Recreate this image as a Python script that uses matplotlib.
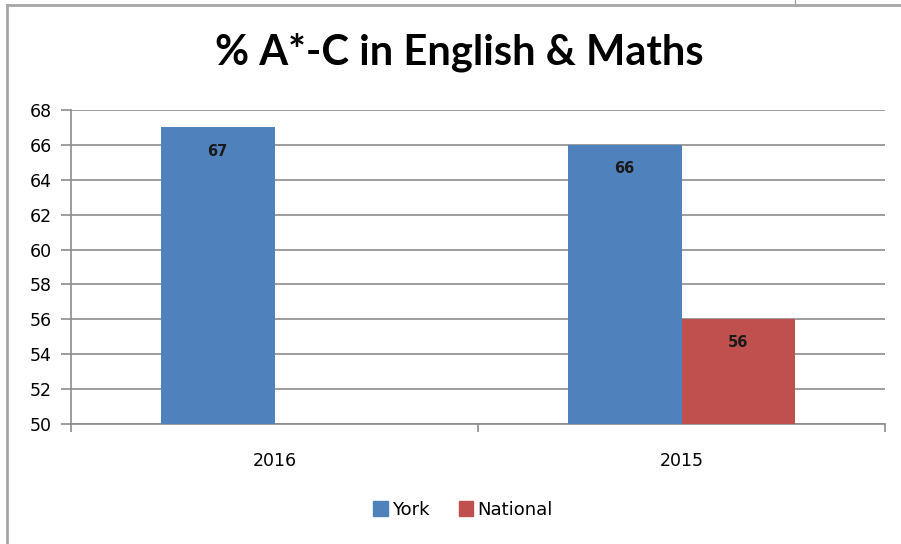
import numpy as np
import matplotlib.pyplot as plt
from matplotlib.lines import Line2D
from matplotlib.patches import Patch

plt.rcParams['font.family'] = ['DejaVu Sans']

years = ["2016", "2015"]
york = [67, 66]
national = [np.nan, 56]
series_names = ["York", "National"]
colors = ["#4F81BD", "#C0504D"]
yticks = [50, 52, 54, 56, 58, 60, 62, 64, 66, 68]

W, H = 901, 544
fig = plt.figure(figsize=(W / 100, H / 100), dpi=100)

# grey frame of the chart (top and left edges visible)
fig.add_artist(Line2D([7 / W, 7 / W], [0, 1 - 5 / H], color="#A6A6A6", lw=2))
fig.add_artist(Line2D([7 / W, 1], [1 - 5 / H, 1 - 5 / H], color="#A6A6A6", lw=2))
fig.add_artist(Line2D([795 / W, 795 / W], [1, 1 - 4 / H], color="#A6A6A6", lw=1))

ax = fig.add_axes([71 / W, (H - 424) / H, (885 - 71) / W, (424 - 110) / H])

x = np.arange(len(years))
w = 0.28
for i, (vals, name) in enumerate(zip([york, national], series_names)):
    pos = x + (i - 0.5) * w
    ax.bar(pos, vals, w, color=colors[i], label=name, zorder=3)
    for p, v in zip(pos, vals):
        if not np.isnan(v):
            ax.annotate(f"{v:.0f}", (p, v), xytext=(0, -17), textcoords="offset points",
                        ha="center", va="center", fontsize=10.5, fontweight="bold",
                        color="#1a1a1a", zorder=4)

ax.set_ylim(50, 68)
ax.set_xlim(-0.5, 1.5)
ax.set_yticks(yticks)
ax.yaxis.grid(True, color="#8C8C8C", lw=1.2, zorder=0)
ax.set_xticks([-0.5, 0.5, 1.5])
ax.set_xticklabels([])
ax.set_xticks(x, minor=True)
ax.set_xticklabels(years, minor=True)
ax.tick_params(axis="x", which="minor", length=0, pad=20, labelsize=12.5)
ax.tick_params(axis="x", which="major", length=6, color="#8C8C8C", width=1.2)
ax.tick_params(axis="y", length=7, color="#8C8C8C", width=1.2, labelsize=12.5, pad=7)
for s in ["top", "right"]:
    ax.spines[s].set_visible(False)
for s in ["left", "bottom"]:
    ax.spines[s].set_color("#8C8C8C")
    ax.spines[s].set_linewidth(1.2)

fig.text(459 / W, 1 - 52 / H, "% A*-C in English & Maths", ha="center", va="center",
         fontsize=30, fontweight="bold", family=["Lato", "DejaVu Sans"])

handles = [Patch(color=c) for c in colors]
fig.legend(handles, series_names, loc="center", bbox_to_anchor=(463 / W, 1 - 510 / H),
           ncol=2, frameon=False, fontsize=13, handlelength=0.8, handleheight=0.9,
           handletextpad=0.25, columnspacing=1.6)

fig.savefig("out.png", dpi=100)
